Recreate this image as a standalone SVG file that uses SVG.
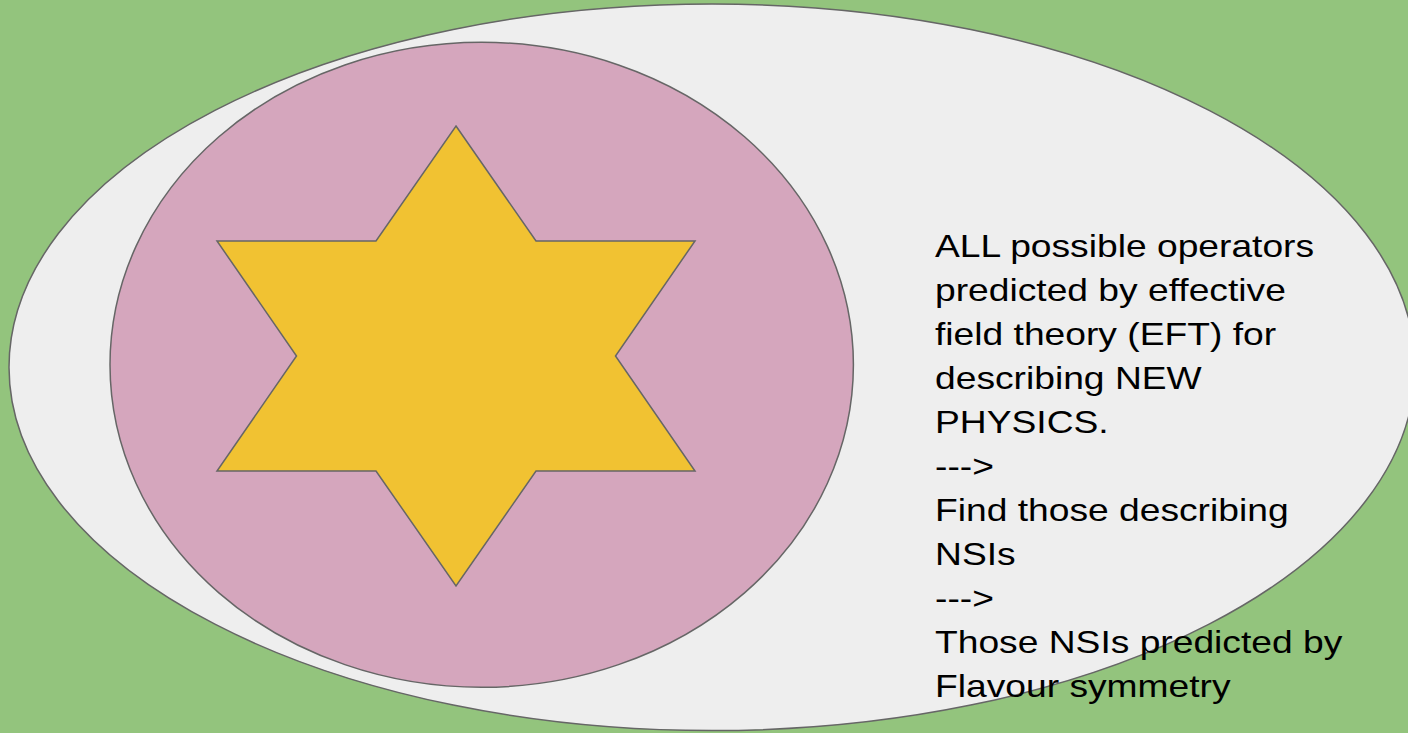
<svg xmlns="http://www.w3.org/2000/svg" width="1408" height="733" viewBox="0 0 1408 733">
  <style>
    .shape { stroke: #666666; stroke-width: 1.5; }
    .label { font-family: "Liberation Sans", Arial, sans-serif; font-size: 31px; fill: #000000; }
  </style>
  <rect x="0" y="0" width="1408" height="733" fill="#93c47d"/>
  <g id="outer-ellipse">
    <ellipse class="shape" cx="712" cy="367.3" rx="703" ry="363.3" fill="#eeeeee"/>
  </g>
  <g id="inner-ellipse">
    <ellipse class="shape" cx="481.7" cy="364.8" rx="371.7" ry="322.5" fill="#d5a6bd"/>
  </g>
  <g id="star">
    <polygon class="shape" fill="#f1c232" points="456,126 536,241 695,241 615.5,356 695,471 536,471 456,586 376,471 217,471 296.5,356 217,241 376,241"/>
  </g>
  <g id="description">
    <text class="label" transform="scale(1.2 1)">
      <tspan x="779.2" y="257">ALL possible operators</tspan>
      <tspan x="779.2" y="301">predicted by effective</tspan>
      <tspan x="779.2" y="345">field theory (EFT) for</tspan>
      <tspan x="779.2" y="389">describing NEW</tspan>
      <tspan x="779.2" y="433">PHYSICS.</tspan>
      <tspan x="779.2" y="477">---&gt;</tspan>
      <tspan x="779.2" y="521">Find those describing</tspan>
      <tspan x="779.2" y="565">NSIs</tspan>
      <tspan x="779.2" y="609">---&gt;</tspan>
      <tspan x="779.2" y="653">Those NSIs predicted by</tspan>
      <tspan x="779.2" y="697">Flavour symmetry</tspan>
    </text>
  </g>
</svg>
